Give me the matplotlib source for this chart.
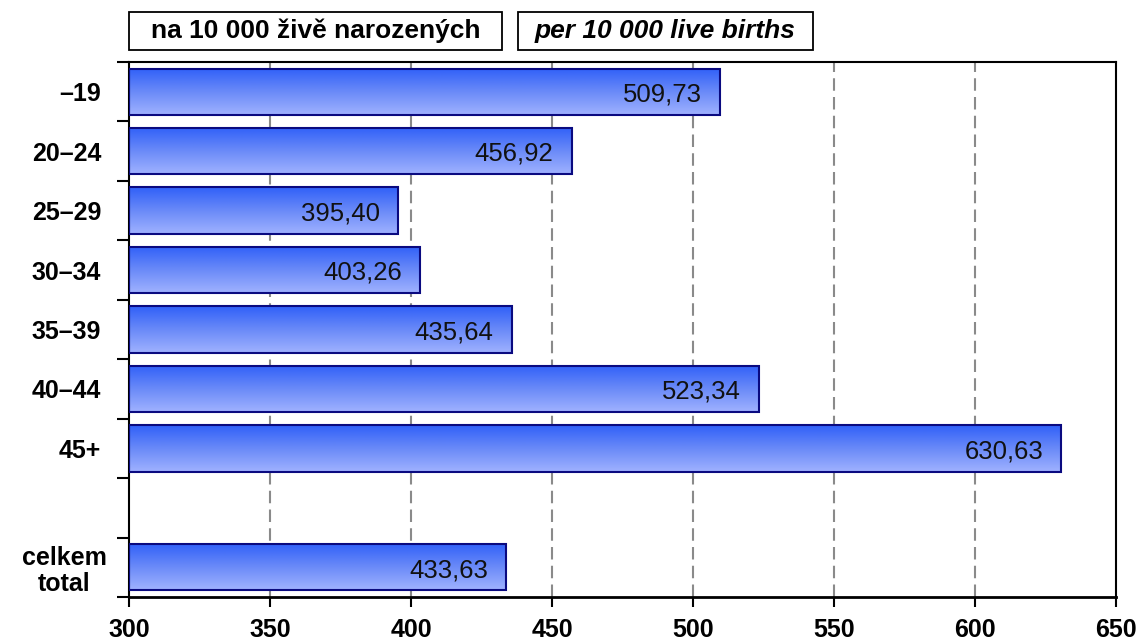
import matplotlib
matplotlib.use("Agg")
import matplotlib.pyplot as plt
import numpy as np
from matplotlib.colors import LinearSegmentedColormap
from matplotlib.patches import Rectangle

plt.rcParams['font.family'] = ['Liberation Sans', 'DejaVu Sans']

categories = ["\u201319", "20\u201324", "25\u201329", "30\u201334", "35\u201339", "40\u201344", "45+", "", "celkem\ntotal"]
values = [509.73, 456.92, 395.40, 403.26, 435.64, 523.34, 630.63, None, 433.63]
labels = ["509,73", "456,92", "395,40", "403,26", "435,64", "523,34", "630,63", None, "433,63"]
xticks = [300, 350, 400, 450, 500, 550, 600, 650]
header_cz = "na 10 000 živě narozených"
header_en = "per 10 000 live births"

W, H = 1144, 641
fig = plt.figure(figsize=(W / 100, H / 100), dpi=100)
ax = fig.add_axes([129 / W, 1 - 597 / H, (1116 - 129) / W, (597 - 62) / H])

xmin, xmax = 300, 650

cmap = LinearSegmentedColormap.from_list("g", ["#3060F8", "#6A8AF8", "#A0B2FF"])
grad = np.linspace(0, 1, 256).reshape(-1, 1)
h = 0.78
for i, (v, lab) in enumerate(zip(values, labels)):
    if v is None:
        continue
    ax.imshow(grad, cmap=cmap, aspect='auto', extent=(xmin, v, i + h / 2, i - h / 2),
              zorder=2, interpolation='bilinear')
    ax.barh(i, v - xmin, left=xmin, height=h, facecolor='none', edgecolor='#0A0A80',
            linewidth=1.5, zorder=3)
    ax.annotate(lab, xy=(v, i), xytext=(-13, -2), textcoords='offset points',
                ha='right', va='center', fontsize=18.5, color='#111111', zorder=4)

ax.set_xlim(xmin, xmax)
ax.set_ylim(len(categories) - 0.5, -0.5)

for x in xticks[1:-1]:
    ax.axvline(x, color='#8A8A8A', linestyle=(0, (6, 3)), linewidth=1.5, zorder=1)

ax.set_xticks(xticks)
ax.set_xticklabels([str(t) for t in xticks], fontsize=18, fontweight='bold')
ax.set_yticks(np.arange(len(categories)))
ax.set_yticklabels(categories, fontsize=18, fontweight='bold', linespacing=1.1)
ax.tick_params(axis='y', length=0, pad=20)
ax.tick_params(axis='x', length=7, width=1.5, pad=8)
for lab in ax.get_yticklabels():
    lab.set_horizontalalignment('right')
last = ax.get_yticklabels()[-1]
last.set_horizontalalignment('center')
last.set_multialignment('center')
last.set_x(-0.0375)

ax.set_yticks(np.arange(len(categories) + 1) - 0.5, minor=True)
ax.tick_params(axis='y', which='minor', length=9, width=1.5)

for s in ax.spines.values():
    s.set_linewidth(1.5)
    s.set_color('black')
ax.spines['bottom'].set_linewidth(2)

def header(x0, x1, y0, y1, text, style):
    fig.add_artist(Rectangle((x0 / W, 1 - y1 / H), (x1 - x0) / W, (y1 - y0) / H,
                             transform=fig.transFigure, facecolor='white',
                             edgecolor='black', linewidth=1.3))
    fig.text((x0 + x1) / 2 / W, 1 - (y0 + y1) / 2 / H, text, fontsize=19, fontweight='bold',
             style=style, ha='center', va='center')

header(129, 502, 12, 50, header_cz, 'normal')
header(518, 813, 12, 50, header_en, 'italic')

fig.savefig("out.png", dpi=100)
